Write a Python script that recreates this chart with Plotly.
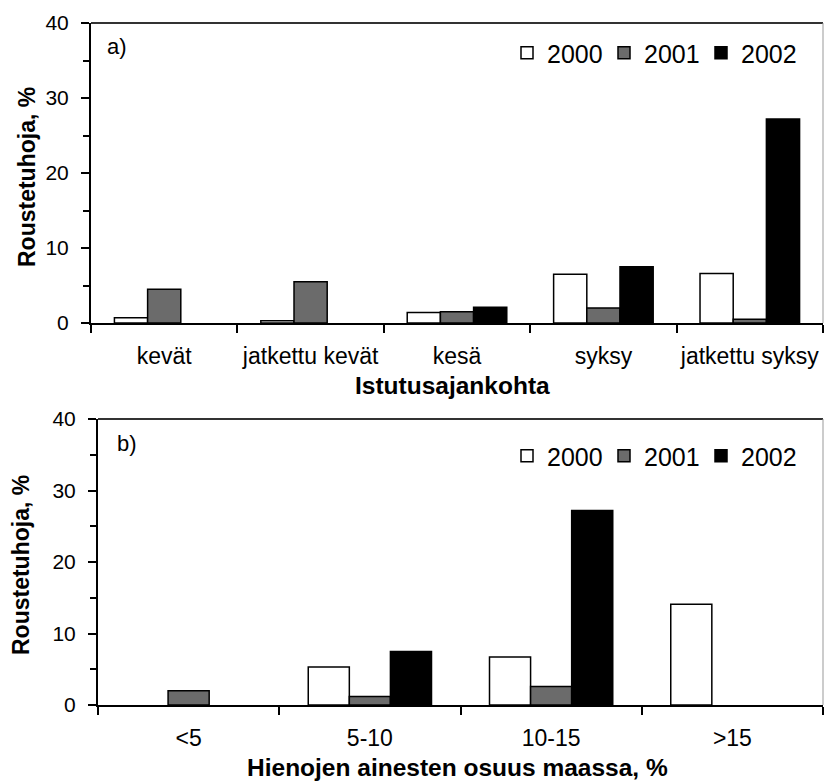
import plotly.graph_objects as go

# Planting time categories (panel a)
planting_times = ["kevät", "jatkettu kevät", "kesä", "syksy", "jatkettu syksy"]
a_2000 = [0.7, 0.3, 1.4, 6.5, 6.6]
a_2001 = [4.5, 5.5, 1.5, 2.0, 0.5]
a_2002 = [None, None, 2.1, 7.5, 27.2]

# Fine-material share categories (panel b)
fines_classes = ["<5", "5-10", "10-15", ">15"]
b_2000 = [None, 5.3, 6.7, 14.1]
b_2001 = [2.0, 1.2, 2.6, None]
b_2002 = [None, 7.5, 27.2, None]

years = ["2000", "2001", "2002"]
fills = ["#ffffff", "#6b6b6b", "#000000"]

W, H = 824, 782
FONT = "Liberation Sans, Arial, sans-serif"


def px_x(v):
    return v / W


def px_y(v):
    return 1 - v / H


fig = go.Figure()

for name, vals, col in zip(years, [a_2000, a_2001, a_2002], fills):
    fig.add_trace(go.Bar(x=planting_times, y=vals, name=name, marker_color=col,
                         marker_line=dict(color="black", width=1.5),
                         xaxis="x", yaxis="y", legend="legend"))

for name, vals, col in zip(years, [b_2000, b_2001, b_2002], fills):
    fig.add_trace(go.Bar(x=fines_classes, y=vals, name=name, marker_color=col,
                         marker_line=dict(color="black", width=1.5),
                         xaxis="x2", yaxis="y2", legend="legend2"))

xcommon = dict(type="category", showline=True, linecolor="black", linewidth=2,
               ticks="outside", ticklen=8, tickwidth=2, tickcolor="black",
               tickson="boundaries", showgrid=False, zeroline=False,
               tickangle=0,
               tickfont=dict(family=FONT, size=23, color="black"),
               ticklabelstandoff=11, automargin=False, fixedrange=True)
ycommon = dict(range=[0, 40], tickvals=[0, 10, 20, 30, 40], showline=True,
               linecolor="black", linewidth=2, ticks="outside", ticklen=8,
               tickwidth=2, tickcolor="black", showgrid=False, zeroline=False,
               minor=dict(ticks="outside", ticklen=6, tickwidth=2,
                          tickcolor="black", dtick=5, showgrid=False),
               tickfont=dict(family=FONT, size=21, color="black"),
               ticklabelstandoff=8, automargin=False, fixedrange=True)

legcommon = dict(orientation="h", font=dict(family=FONT, size=25, color="black"),
                 bgcolor="rgba(0,0,0,0)", borderwidth=0, xanchor="left",
                 yanchor="middle", entrywidth=52, traceorder="normal")

fig.update_layout(
    width=W, height=H,
    margin=dict(l=0, r=0, t=0, b=0),
    paper_bgcolor="white", plot_bgcolor="white",
    barmode="group", bargap=0.32, bargroupgap=0,
    font=dict(family=FONT, color="black"),
    xaxis=dict(domain=[px_x(91), px_x(823)], anchor="y", **xcommon),
    yaxis=dict(domain=[px_y(323), px_y(23)], anchor="x", **ycommon),
    xaxis2=dict(domain=[px_x(98), px_x(823)], anchor="y2", **xcommon),
    yaxis2=dict(domain=[px_y(705), px_y(419)], anchor="x2", **ycommon),
    legend=dict(x=px_x(507), y=px_y(53), **legcommon),
    legend2=dict(x=px_x(507), y=px_y(456), **legcommon),
    showlegend=True,
)

# Frame lines closing each plot area (top and right edges)
for xa, ya in [("x", "y"), ("x2", "y2")]:
    fig.add_shape(type="line", xref=f"{xa} domain", yref=f"{ya} domain",
                  x0=0, x1=1, y0=1, y1=1, line=dict(color="#333333", width=2))
    fig.add_shape(type="line", xref=f"{xa} domain", yref=f"{ya} domain",
                  x0=1, x1=1, y0=0, y1=1, line=dict(color="#999999", width=1))

annotations = [
    dict(text="a)", x=px_x(117), y=px_y(47), size=22, bold=False, angle=0),
    dict(text="b)", x=px_x(127), y=px_y(443), size=22, bold=False, angle=0),
    dict(text="Roustetuhoja, %", x=px_x(27), y=px_y(177), size=23, bold=True, angle=-90),
    dict(text="Roustetuhoja, %", x=px_x(21), y=px_y(565), size=23, bold=True, angle=-90),
    dict(text="Istutusajankohta", x=px_x(452), y=px_y(386), size=24.5, bold=True, angle=0),
    dict(text="Hienojen ainesten osuus maassa, %", x=px_x(457), y=px_y(767), size=24.5, bold=True, angle=0),
]
for a in annotations:
    txt = f"<b>{a['text']}</b>" if a["bold"] else a["text"]
    fig.add_annotation(text=txt, x=a["x"], y=a["y"], xref="paper", yref="paper",
                       xanchor="center", yanchor="middle", showarrow=False,
                       textangle=a["angle"],
                       font=dict(family=FONT, size=a["size"], color="black"))

fig.write_html("out.html")
